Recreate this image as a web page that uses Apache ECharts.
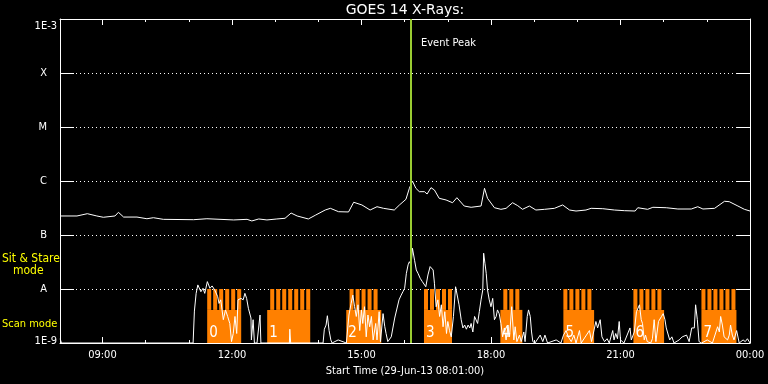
<!DOCTYPE html>
<html><head><meta charset="utf-8">
<script src="https://cdn.jsdelivr.net/npm/echarts@6/dist/echarts.min.js"></script>
<style>html,body{margin:0;padding:0;background:#000}#c{width:768px;height:384px}</style>
</head><body><div id="c"></div>
<script>
const chartTitle = 'GOES 14 X-Rays:';
const xAxisName = 'Start Time (29-Jun-13 08:01:00)';
const xStart = 8 + 1 / 60, xEnd = 24;
const xMajorTicks = [9, 12, 15, 18, 21, 24];
const xTickLabels = ['09:00', '12:00', '15:00', '18:00', '21:00', '00:00'];
const xMinorTicks = [9, 10, 11, 12, 13, 14, 15, 16, 17, 18, 19, 20, 21, 22, 23, 24];
const yMin = 1e-9, yMax = 1e-3;
const yTickLabels = ['1E-9', 'A', 'B', 'C', 'M', 'X', '1E-3'];
const eventPeakTime = 16.15;
const eventPeakText = 'Event Peak';
const modeLabels = ['Sit & Stare', 'mode', 'Scan mode'];

// GOES long channel (upper curve), [hour, W/m^2]
const longChannel = [[8.02,2.25e-7],[8.41,2.25e-7],[8.65,2.48e-7],[8.87,2.25e-7],[9.02,2.13e-7],[9.29,2.25e-7],[9.37,2.63e-7],[9.49,2.15e-7],[9.80,2.15e-7],[10.03,2.0e-7],[10.18,2.09e-7],[10.41,1.95e-7],[11.11,1.92e-7],[11.42,2.0e-7],[12.04,1.9e-7],[12.35,1.95e-7],[12.46,1.82e-7],[12.62,1.98e-7],[12.81,1.9e-7],[13.04,1.98e-7],[13.23,2.04e-7],[13.37,2.55e-7],[13.51,2.25e-7],[13.77,1.98e-7],[13.93,2.32e-7],[14.16,2.9e-7],[14.28,3.12e-7],[14.47,2.7e-7],[14.70,2.67e-7],[14.82,4.04e-7],[15.01,3.6e-7],[15.20,2.9e-7],[15.36,3.34e-7],[15.51,3.12e-7],[15.76,2.9e-7],[15.88,3.6e-7],[16.03,4.58e-7],[16.11,7.33e-7],[16.18,1.0e-6],[16.26,7.33e-7],[16.34,6.34e-7],[16.46,6.34e-7],[16.52,5.74e-7],[16.61,7.52e-7],[16.69,6.81e-7],[16.80,4.78e-7],[16.96,4.45e-7],[17.11,3.96e-7],[17.21,4.91e-7],[17.38,3.44e-7],[17.54,3.26e-7],[17.77,3.44e-7],[17.85,7.33e-7],[17.92,4.78e-7],[18.08,3.2e-7],[18.23,2.99e-7],[18.35,3.12e-7],[18.50,3.96e-7],[18.62,3.49e-7],[18.73,2.99e-7],[18.89,3.44e-7],[19.04,2.9e-7],[19.24,2.99e-7],[19.47,3.12e-7],[19.66,3.6e-7],[19.82,2.9e-7],[19.97,2.78e-7],[20.20,2.9e-7],[20.32,3.12e-7],[20.59,3.07e-7],[20.86,2.9e-7],[21.09,2.82e-7],[21.34,2.78e-7],[21.40,3.2e-7],[21.63,2.99e-7],[21.75,3.26e-7],[22.06,3.2e-7],[22.33,3.03e-7],[22.64,3.03e-7],[22.79,3.34e-7],[22.91,3.03e-7],[23.18,3.12e-7],[23.41,4.21e-7],[23.52,4.14e-7],[23.72,3.44e-7],[23.87,2.99e-7],[24.0,2.78e-7]];

// GOES short channel (lower curve), [hour, W/m^2]
const shortChannel = [[8.02,1.2e-9],[8.05,1e-9],[11.10,1e-9],[11.13,3.9e-9],[11.17,8.3e-9],[11.21,1.19e-8],[11.22,1.1e-8],[11.28,8.9e-9],[11.33,1.03e-8],[11.37,8.3e-9],[11.43,1.37e-8],[11.49,1.03e-8],[11.54,1.14e-8],[11.60,9.6e-9],[11.67,7.2e-9],[11.70,5.4e-9],[11.74,6.3e-9],[11.80,2.7e-9],[11.85,4.1e-9],[11.90,3.1e-9],[11.95,2.3e-9],[11.99,1.06e-9],[12.03,1.5e-9],[12.07,3.1e-9],[12.11,1.5e-9],[12.14,6.3e-9],[12.21,6.7e-9],[12.26,6.3e-9],[12.30,8.3e-9],[12.34,6.7e-9],[12.38,4.4e-9],[12.44,2.9e-9],[12.45,1.14e-9],[12.49,2.7e-9],[12.52,1e-9],[12.58,1e-9],[12.65,3.3e-9],[12.67,1e-9],[13.33,1e-9],[13.34,1.8e-9],[13.36,1e-9],[14.11,1e-9],[14.14,1.8e-9],[14.18,2.15e-9],[14.21,3.2e-9],[14.25,1.7e-9],[14.29,1.14e-9],[14.32,1e-9],[14.46,1.14e-9],[14.65,1e-9],[14.71,3.3e-9],[14.76,5.4e-9],[14.80,7.7e-9],[14.84,4.7e-9],[14.88,3.1e-9],[14.92,5.1e-9],[14.96,1.7e-9],[15.00,4.1e-9],[15.03,2.3e-9],[15.07,4.7e-9],[15.11,1.3e-9],[15.15,3.3e-9],[15.19,2.0e-9],[15.23,3.1e-9],[15.27,1.14e-9],[15.33,2.3e-9],[15.36,1.14e-9],[15.41,3.8e-9],[15.44,1.06e-9],[15.50,3.5e-9],[15.54,2.0e-9],[15.57,1.5e-9],[15.61,1.06e-9],[15.69,1.3e-9],[15.77,2.9e-9],[15.81,3.1e-9],[15.87,6.3e-9],[15.92,7.7e-9],[15.96,8.9e-9],[16.00,1.03e-8],[16.04,1.95e-8],[16.08,2.8e-8],[16.11,3.2e-8],[16.15,2.8e-8],[16.18,5.7e-8],[16.23,3.4e-8],[16.27,2.25e-8],[16.31,1.95e-8],[16.36,1.58e-8],[16.41,1.37e-8],[16.44,1.47e-8],[16.49,1.1e-8],[16.54,1.82e-8],[16.59,2.6e-8],[16.66,2.25e-8],[16.69,1.28e-8],[16.73,4.7e-9],[16.77,6.3e-9],[16.81,3.1e-9],[16.85,5.1e-9],[16.89,2.0e-9],[16.93,3.8e-9],[16.97,1.5e-9],[17.00,2.5e-9],[17.04,1.7e-9],[17.08,1.3e-9],[17.13,3.1e-9],[17.18,1.1e-8],[17.21,1.03e-8],[17.26,5.1e-9],[17.31,2.7e-9],[17.35,1.9e-9],[17.39,2.15e-9],[17.43,1.8e-9],[17.47,2.15e-9],[17.51,1.9e-9],[17.54,2.3e-9],[17.58,1.6e-9],[17.62,3.1e-9],[17.69,2.3e-9],[17.73,3.8e-9],[17.77,6.3e-9],[17.81,9.6e-9],[17.83,4.6e-8],[17.86,3.0e-8],[17.89,1.95e-8],[17.92,9.6e-9],[17.96,6.3e-9],[18.00,4.7e-9],[18.04,6.7e-9],[18.08,2.7e-9],[18.12,3.1e-9],[18.15,4.1e-9],[18.19,3.5e-9],[18.23,2.3e-9],[18.27,1.3e-9],[18.31,1.9e-9],[18.35,1.14e-9],[18.39,2.0e-9],[18.43,1.3e-9],[18.48,4.7e-9],[18.53,1.14e-9],[18.56,2.0e-9],[18.60,1.06e-9],[18.66,1.4e-9],[18.70,1.06e-9],[18.76,1.6e-9],[18.79,1.06e-9],[18.84,3.1e-9],[18.87,4.1e-9],[18.91,3.1e-9],[18.94,1.6e-9],[18.97,1.06e-9],[19.02,1e-9],[19.14,1.4e-9],[19.20,1.06e-9],[19.25,1.4e-9],[19.31,1e-9],[19.51,1.14e-9],[19.62,1e-9],[19.68,1.4e-9],[19.74,1.7e-9],[19.79,1.3e-9],[19.86,1.06e-9],[19.92,1.4e-9],[19.97,1e-9],[20.05,1.7e-9],[20.09,1e-9],[20.28,1.7e-9],[20.33,1.06e-9],[20.43,2.5e-9],[20.47,1.9e-9],[20.53,2.7e-9],[20.57,1.3e-9],[20.63,1.06e-9],[20.69,1.2e-9],[20.74,1e-9],[20.82,1.7e-9],[20.85,1.14e-9],[20.89,1.5e-9],[20.93,1.2e-9],[20.97,2.5e-9],[21.00,1.14e-9],[21.08,1e-9],[21.22,1.9e-9],[21.25,1.14e-9],[21.32,1.6e-9],[21.37,3.8e-9],[21.41,4.1e-9],[21.44,5.1e-9],[21.48,2.7e-9],[21.51,2.3e-9],[21.55,1.14e-9],[21.58,1.4e-9],[21.62,1.06e-9],[21.70,1e-9],[21.74,1.2e-9],[21.78,2.7e-9],[21.82,1.06e-9],[21.88,2.5e-9],[21.92,2.7e-9],[21.95,3.1e-9],[21.99,3.5e-9],[22.03,2.7e-9],[22.06,1.9e-9],[22.09,2.0e-9],[22.14,1.14e-9],[22.19,1.3e-9],[22.24,1e-9],[22.36,1.14e-9],[22.43,1.3e-9],[22.53,1.4e-9],[22.59,1.06e-9],[22.65,1.9e-9],[22.71,1.9e-9],[22.74,5.1e-9],[22.78,2.7e-9],[22.82,1.06e-9],[22.88,1e-9],[23.01,1.14e-9],[23.13,1e-9],[23.25,2.0e-9],[23.29,1.6e-9],[23.32,3.1e-9],[23.36,2.15e-9],[23.40,1.3e-9],[23.44,1.2e-9],[23.48,1.14e-9],[23.52,1.4e-9],[23.55,2.15e-9],[23.59,1.4e-9],[23.63,1.14e-9],[23.69,1.7e-9],[23.75,1e-9],[23.84,1.14e-9],[23.89,1.06e-9],[23.94,1.2e-9],[24.00,1e-9]];

// IRIS observing blocks
const scanLabels = ['0', '1', '2', '3', '4', '5', '6', '7'];
const scanStart = [11.426, 12.816, 14.648, 16.448, 18.217, 19.677, 21.299, 22.875];
const scanEnd   = [12.214, 13.813, 15.459, 17.097, 18.727, 20.389, 22.010, 23.686];
const scanLevel = 4.1e-9;      // top of scan-mode band
const stareLevel = 1e-8;       // top of sit & stare band
const scanLabelLevel = 1.53e-9;
const stareStarts = [
  11.426, 11.565, 11.704, 11.843, 11.982, 12.121,
  12.886, 13.025, 13.164, 13.303, 13.442, 13.581, 13.720,
  14.724, 14.863, 15.002, 15.141, 15.280,
  16.448, 16.587, 16.726, 16.865, 17.004,
  18.286, 18.425, 18.564,
  19.677, 19.816, 19.955, 20.094, 20.233,
  21.299, 21.438, 21.577, 21.716, 21.855,
  22.875, 23.014, 23.153, 23.292, 23.431, 23.570
];
const stareDuration = 0.093;

const ORANGE = '#ff8000';
const FONT = 'DejaVu Sans Condensed';

const chart = echarts.init(document.getElementById('c'), null, {renderer: 'canvas'});

const scanData = scanStart.map((s, i) => [s, scanEnd[i], yMin, scanLevel]);
const stareData = stareStarts.map(s => [s, s + stareDuration, scanLevel, stareLevel]);

function rectItem(params, api, extra) {
  const a = api.coord([api.value(0), api.value(3)]);
  const b = api.coord([api.value(1), api.value(2)]);
  const children = [{type: 'rect', shape: {x: a[0], y: a[1], width: b[0] - a[0], height: b[1] - a[1]}, style: {fill: ORANGE}}];
  if (extra) {
    const l = api.coord([api.value(0), scanLabelLevel]);
    children.push({type: 'text', x: a[0] + 2, y: l[1], style: {text: scanLabels[params.dataIndex], fill: '#fff', font: '15px ' + FONT, verticalAlign: 'middle'}});
  }
  return {type: 'group', children};
}

function hourLabel(v) {
  const i = xMajorTicks.indexOf(Math.round(v));
  return i >= 0 ? xTickLabels[i] : '';
}

function yLabel(v) {
  const e = Math.round(Math.log10(v));
  const s = yTickLabels[e + 9];
  if (e === -3) return '{t|' + s + '}';
  if (e === -9) return '{b|' + s + '}';
  return '{l|' + s + '}';
}

const lab = {color: '#fff', fontFamily: FONT, fontSize: 11};

const xBase = {type: 'value', min: xStart, max: xEnd, gridIndex: 0, splitLine: {show: false}, axisLabel: {show: false}};

chart.setOption({
  backgroundColor: '#000',
  animation: false,
  grid: {left: 60, right: 18, top: 19, bottom: 41, containLabel: false, outerBoundsMode: 'none'},
  xAxis: [
    Object.assign({}, xBase, {
      position: 'bottom',
      axisLine: {show: true, onZero: false, lineStyle: {color: '#fff', width: 1}},
      axisTick: {show: true, inside: true, length: 6, customValues: xMajorTicks, lineStyle: {color: '#fff'}},
      axisLabel: Object.assign({show: true, customValues: xMajorTicks, formatter: hourLabel, margin: 7}, lab),
      name: xAxisName, nameLocation: 'middle', nameGap: 23,
      nameTextStyle: {color: '#fff', fontFamily: FONT, fontSize: 11}
    }),
    Object.assign({}, xBase, {
      position: 'bottom',
      axisLine: {show: false, onZero: false},
      axisTick: {show: true, inside: true, length: 3, customValues: xMinorTicks, lineStyle: {color: '#fff'}}
    }),
    Object.assign({}, xBase, {
      position: 'top',
      axisLine: {show: true, onZero: false, lineStyle: {color: '#fff', width: 1}},
      axisTick: {show: true, inside: true, length: 6, customValues: xMajorTicks, lineStyle: {color: '#fff'}}
    }),
    Object.assign({}, xBase, {
      position: 'top',
      axisLine: {show: false, onZero: false},
      axisTick: {show: true, inside: true, length: 3, customValues: xMinorTicks, lineStyle: {color: '#fff'}}
    })
  ],
  yAxis: [
    {
      type: 'log', logBase: 10, min: yMin, max: yMax, splitNumber: 6, position: 'left',
      axisLine: {show: true, onZero: false, lineStyle: {color: '#fff', width: 1}},
      axisTick: {show: true, inside: true, length: 14, lineStyle: {color: '#fff'}},
      axisLabel: {
        show: true, margin: 3, formatter: yLabel, color: '#fff', fontFamily: FONT, fontSize: 11,
        rich: {
          t: {color: '#fff', fontFamily: FONT, fontSize: 11, padding: [14, 0, 0, 0]},
          b: {color: '#fff', fontFamily: FONT, fontSize: 11, padding: [0, 0, 3, 0]},
          l: {color: '#fff', fontFamily: FONT, fontSize: 11, padding: [0, 10, 0, 0]}
        }
      },
      splitLine: {show: true, lineStyle: {color: '#fff', width: 1, type: [1, 3]}}
    },
    {
      type: 'log', logBase: 10, min: yMin, max: yMax, splitNumber: 6, position: 'right',
      axisLine: {show: true, onZero: false, lineStyle: {color: '#fff', width: 1}},
      axisTick: {show: true, inside: true, length: 14, lineStyle: {color: '#fff'}},
      axisLabel: {show: false},
      splitLine: {show: false}
    }
  ],
  graphic: [
    {type: 'text', x: 405, y: 10, z: 10, style: {text: chartTitle, fill: '#fff', font: '14px DejaVu Sans', align: 'center', verticalAlign: 'middle'}},
    {type: 'text', x: 421, y: 43, z: 10, style: {text: eventPeakText, fill: '#fff', font: '11px ' + FONT, verticalAlign: 'middle'}},
    {type: 'text', x: 2, y: 259, z: 10, style: {text: modeLabels[0], fill: '#ffff00', font: '12px ' + FONT, verticalAlign: 'middle'}},
    {type: 'text', x: 13, y: 271, z: 10, style: {text: modeLabels[1], fill: '#ffff00', font: '12px ' + FONT, verticalAlign: 'middle'}},
    {type: 'text', x: 2, y: 324, z: 10, style: {text: modeLabels[2], fill: '#ffff00', font: '11px ' + FONT, verticalAlign: 'middle'}}
  ],
  series: [
    {
      type: 'custom', name: 'scan', xAxisIndex: 0, yAxisIndex: 0, z: 1,
      encode: {x: [0, 1], y: [2, 3]}, data: scanData,
      renderItem: (p, api) => rectItem(p, api, true), silent: true
    },
    {
      type: 'custom', name: 'stare', xAxisIndex: 0, yAxisIndex: 0, z: 1,
      encode: {x: [0, 1], y: [2, 3]}, data: stareData,
      renderItem: (p, api) => rectItem(p, api, false), silent: true
    },
    {
      type: 'line', name: 'short', xAxisIndex: 0, yAxisIndex: 0, z: 3, data: shortChannel,
      showSymbol: false, symbol: 'none', lineStyle: {color: '#fff', width: 1}, silent: true
    },
    {
      type: 'line', name: 'long', xAxisIndex: 0, yAxisIndex: 0, z: 3, data: longChannel,
      showSymbol: false, symbol: 'none', lineStyle: {color: '#fff', width: 1}, silent: true,
      markLine: {
        silent: true, symbol: ['none', 'none'], label: {show: false},
        lineStyle: {color: '#9acd32', width: 2, type: 'solid'},
        data: [{xAxis: eventPeakTime}]
      }
    }
  ]
});
</script>
</body></html>
